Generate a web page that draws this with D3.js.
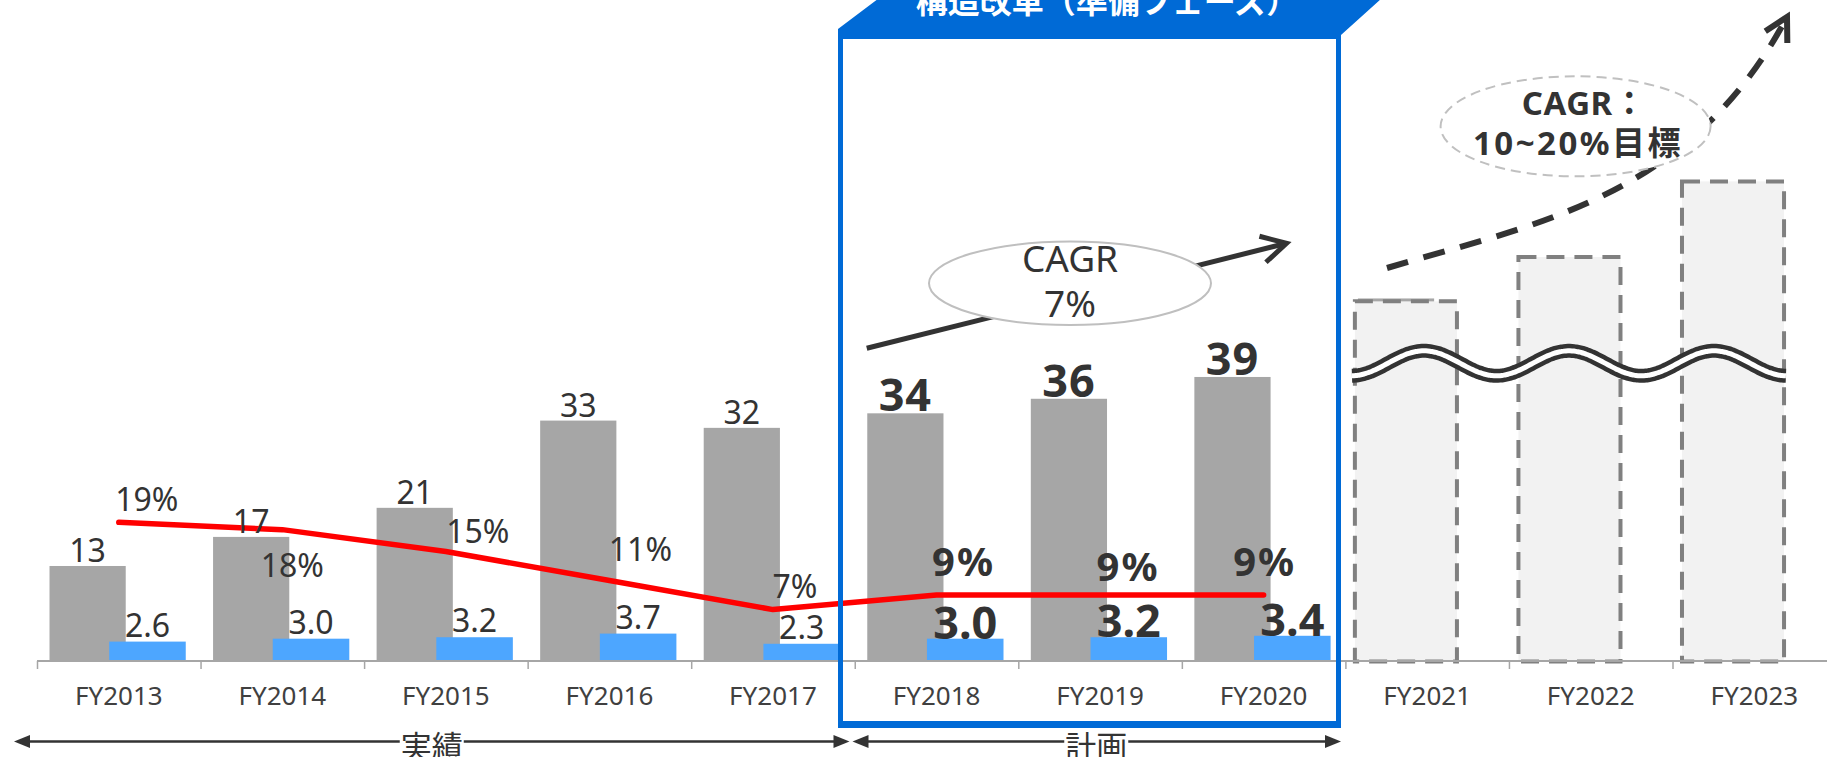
<!DOCTYPE html>
<html>
<head>
<meta charset="utf-8">
<script src="https://cdn.jsdelivr.net/npm/d3@7"></script>
<style>
html, body { margin: 0; padding: 0; background: #fff; overflow: hidden; }
svg { display: block; }
text { font-family: "Noto Sans", "Noto Sans CJK JP", sans-serif; }
</style>
</head>
<body>
<div id="chart"></div>
<script>
(function(){

var width = 1827,
	height = 757;

// categories and values
var years = ["FY2013","FY2014","FY2015","FY2016","FY2017","FY2018","FY2019","FY2020","FY2021","FY2022","FY2023"];
var barYears = ["FY2013","FY2014","FY2015","FY2016","FY2017","FY2018","FY2019","FY2020"];
var planYears = ["FY2018","FY2019","FY2020"];
var futureYears = ["FY2021","FY2022","FY2023"];

var sales = [13, 17, 21, 33, 32, 34, 36, 39];
var profit = [2.6, 3.0, 3.2, 3.7, 2.3, 3.0, 3.2, 3.4];
var margin = [19, 18, 15, 11, 7, 9, 9, 9];

// the target years are only sketched (dashed boxes, broken axis)
var futureSketch = [49.4, 55.5, 65.9];
var futureStub = [49.8];   // bit of the gray bar peeking out above FY2021

// hand placed % labels (dx, dy from the point)
var pctNudge = {
	FY2013: [28, -11], FY2014: [10, 47], FY2015: [32, -8], FY2016: [31, -20],
	FY2017: [22, -12], FY2018: [27, -19], FY2019: [28, -14], FY2020: [1, -19]
};

var C = { gray: "#a6a6a6", blue: "#4da6ff", red: "#ff0000", frame: "#006ad6", ink: "#333333", axis: "#a6a6a6" };

var svg = d3.select("#chart").append("svg")
	.attr("width", width)
	.attr("height", height);

var x = d3.scaleBand().domain(years).range([37, 37 + 163.55 * years.length]);
var bw = x.bandwidth();
var y = d3.scaleLinear().domain([0, 90]).range([660.5, 660.5 - 90 * 7.27]);

var grayX = function(c){ return x(c) + bw * 0.0765; },
	grayW = bw * 0.466,
	blueX = function(c){ return x(c) + bw * 0.4415; },
	blueW = bw * 0.468,
	isPlan = function(c){ return planYears.indexOf(c) >= 0; };

var rows = barYears.map(function(c, i){
	return { year: c, sales: sales[i], profit: profit[i], margin: margin[i], plan: isPlan(c) };
});

// ---- sketched future bars
svg.selectAll(".stub").data(futureStub).enter().append("rect")
	.attr("x", function(d, i){ return grayX(futureYears[i]); })
	.attr("y", function(d){ return y(d); })
	.attr("width", grayW)
	.attr("height", function(d){ return y(0) - y(d); })
	.style("fill", C.gray);

svg.selectAll(".future").data(futureSketch).enter().append("rect")
	.attr("class", "future")
	.attr("x", function(d, i){ return x(futureYears[i]) + bw * 0.058; })
	.attr("y", function(d){ return y(d); })
	.attr("width", bw * 0.624)
	.attr("height", function(d){ return y(0) - y(d) + 1; })
	.style("fill", "#f2f2f2")
	.style("stroke", "#808080")
	.style("stroke-width", 4)
	.style("stroke-dasharray", "18,10");

// ---- bars
svg.selectAll(".sales").data(rows).enter().append("rect")
	.attr("x", function(d){ return grayX(d.year); })
	.attr("y", function(d){ return y(d.sales); })
	.attr("width", grayW)
	.attr("height", function(d){ return y(0) - y(d.sales); })
	.style("fill", C.gray);

svg.selectAll(".profit").data(rows).enter().append("rect")
	.attr("x", function(d){ return blueX(d.year); })
	.attr("y", function(d){ return y(d.profit); })
	.attr("width", blueW)
	.attr("height", function(d){ return y(0) - y(d.profit); })
	.style("fill", C.blue);

// ---- axis
var ay = 661;
svg.append("line")
	.attr("x1", x.range()[0]).attr("x2", width)
	.attr("y1", ay).attr("y2", ay)
	.style("stroke", C.axis).style("stroke-width", 2);

svg.selectAll(".tick").data(years).enter().append("line")
	.attr("x1", function(d){ return x(d) + 0.5; })
	.attr("x2", function(d){ return x(d) + 0.5; })
	.attr("y1", ay).attr("y2", ay + 8)
	.style("stroke", C.axis).style("stroke-width", 1.5);

svg.selectAll(".xlabel").data(years).enter().append("text")
	.attr("x", function(d){ return x(d) + bw / 2; })
	.attr("y", 705)
	.attr("text-anchor", "middle")
	.style("font-size", "26px")
	.style("fill", "#404040")
	.text(function(d){ return d; });

// ---- margin line
var line = d3.line()
	.x(function(d){ return x(d.year) + bw / 2; })
	.y(function(d){ return y(d.margin); });

svg.append("path").datum(rows)
	.attr("d", line)
	.style("fill", "none")
	.style("stroke", C.red)
	.style("stroke-width", 5.5)
	.style("stroke-linecap", "round")
	.style("stroke-linejoin", "round");

// ---- value labels
svg.selectAll(".slabel").data(rows).enter().append("text")
	.attr("x", function(d){ return grayX(d.year) + grayW / 2; })
	.attr("y", function(d){ return y(d.sales) - (d.plan ? 2 : 4); })
	.attr("text-anchor", "middle")
	.style("font-size", function(d){ return d.plan ? "45px" : "32px"; })
	.style("font-weight", function(d){ return d.plan ? "bold" : "normal"; })
	.style("letter-spacing", function(d){ return d.plan ? "1px" : "0px"; })
	.style("fill", C.ink)
	.text(function(d){ return d.sales; });

svg.selectAll(".plabel").data(rows).enter().append("text")
	.attr("x", function(d){ return blueX(d.year) + blueW / 2; })
	.attr("y", function(d){ return y(d.profit) - (d.plan ? 0 : 5); })
	.attr("text-anchor", "middle")
	.style("font-size", function(d){ return d.plan ? "45px" : "32px"; })
	.style("font-weight", function(d){ return d.plan ? "bold" : "normal"; })
	.style("fill", C.ink)
	.text(function(d){ return d3.format(".1f")(d.profit); });

svg.selectAll(".mlabel").data(rows).enter().append("text")
	.attr("x", function(d){ return x(d.year) + bw / 2 + pctNudge[d.year][0]; })
	.attr("y", function(d){ return y(d.margin) + pctNudge[d.year][1]; })
	.attr("text-anchor", "middle")
	.style("font-size", function(d){ return d.plan ? "40px" : "32px"; })
	.style("font-weight", function(d){ return d.plan ? "bold" : "normal"; })
	.style("letter-spacing", function(d){ return d.plan ? "2px" : "0px"; })
	.style("fill", C.ink)
	.text(function(d){ return d.margin + "%"; });

// ---- broken axis wave over the sketched bars
var w0 = x("FY2021") + bw * 0.04, w1 = x("FY2023") + bw * 0.694;
var wave = d3.range(w0, w1 + 1, 2).map(function(px){
	return [px, 363.3 - 12.5 * Math.cos(2 * Math.PI * (px - 1424) / 145)];
});
var wl = d3.line().curve(d3.curveBasis);
svg.append("path").attr("d", wl(wave))
	.style("fill", "none").style("stroke", C.ink).style("stroke-width", 14);
svg.append("path").attr("d", wl(wave))
	.style("fill", "none").style("stroke", "#fff").style("stroke-width", 5);

// ---- plan frame and banner
var fL = x("FY2018") - 14.25,
	fR = x("FY2020") + bw - 6.9,
	fT = 36,
	fB = 724;

svg.append("rect")
	.attr("x", fL).attr("y", fT)
	.attr("width", fR - fL).attr("height", fB - fT)
	.style("fill", "none")
	.style("stroke", C.frame)
	.style("stroke-width", 5);
svg.append("rect")
	.attr("x", fL - 2.5).attr("y", fB - 3)
	.attr("width", fR - fL + 5).attr("height", 7)
	.style("fill", C.frame);

svg.append("polygon")
	.attr("points", [
		[fL - 2.5, fT + 3], [fL - 2.5, 29], [fL + 44, -6],
		[fR + 48, -6], [fR + 2.5, 35], [fR + 2.5, fT + 3]
	].join(" "))
	.style("fill", C.frame);

svg.append("text")
	.attr("x", 1107)
	.attr("y", 13)
	.attr("text-anchor", "middle")
	.style("font-family", "'Noto Sans CJK JP', sans-serif")
	.style("font-size", "32px")
	.style("font-weight", "bold")
	.style("fill", "#fff")
	.text("構造改革（準備フェーズ）");

// ---- open chevron helper
function chevron(tx, ty, ang, len, spread){
	var b = ang + Math.PI;
	return "M" + (tx + len * Math.cos(b + spread)) + "," + (ty + len * Math.sin(b + spread)) +
		"L" + tx + "," + ty +
		"L" + (tx + len * Math.cos(b - spread)) + "," + (ty + len * Math.sin(b - spread));
}

// ---- CAGR 7% arrow
var a0 = [x("FY2018") + 12, 348.3], a1 = [x("FY2020") + bw * 0.64, 243.3];
var ang = Math.atan2(a1[1] - a0[1], a1[0] - a0[0]);
svg.append("line")
	.attr("x1", a0[0]).attr("y1", a0[1]).attr("x2", a1[0] - 3 * Math.cos(ang)).attr("y2", a1[1] - 3 * Math.sin(ang))
	.style("stroke", C.ink).style("stroke-width", 5);
svg.append("path").attr("d", chevron(a1[0], a1[1], ang, 28, 0.5))
	.style("fill", "none").style("stroke", C.ink).style("stroke-width", 5)
	.style("stroke-linejoin", "miter");

svg.append("ellipse")
	.attr("cx", 1070).attr("cy", 283.3).attr("rx", 141).attr("ry", 41.7)
	.style("fill", "#fff").style("stroke", "#bfbfbf").style("stroke-width", 2);

svg.selectAll(".cagr1").data(["CAGR", "7%"]).enter().append("text")
	.attr("x", 1070)
	.attr("y", function(d, i){ return 271.7 + i * 45; })
	.attr("text-anchor", "middle")
	.style("font-size", "37px")
	.style("fill", C.ink)
	.text(function(d){ return d; });

// ---- target CAGR dashed arrow
var p0 = [1387, 268], p1 = [1530, 225], p2 = [1690, 200], p3 = [1787, 17];
svg.append("path")
	.attr("d", "M" + p0 + "C" + p1 + " " + p2 + " " + p3)
	.style("fill", "none").style("stroke", C.ink).style("stroke-width", 6)
	.style("stroke-dasharray", "22,16");
var ang2 = Math.atan2(p3[1] - p2[1], p3[0] - p2[0]);
svg.append("path").attr("d", chevron(p3[0], p3[1], ang2, 26, 0.5))
	.style("fill", "none").style("stroke", C.ink).style("stroke-width", 6);

svg.append("ellipse")
	.attr("cx", 1575.6).attr("cy", 126.3).attr("rx", 135).attr("ry", 50)
	.style("fill", "#fff").style("stroke", "#c0c0c0").style("stroke-width", 2)
	.style("stroke-dasharray", "10,6");

svg.selectAll(".cagr2").data(["CAGR：", "10~20%目標"]).enter().append("text")
	.attr("x", function(d, i){ return i ? 1578 : 1584; })
	.attr("y", function(d, i){ return 115 + i * 40; })
	.attr("text-anchor", "middle")
	.style("font-size", "33px")
	.style("font-weight", "bold")
	.style("letter-spacing", function(d, i){ return i ? "2.5px" : "0.5px"; })
	.style("fill", C.ink)
	.text(function(d){ return d; });

// ---- period arrows at the bottom
var periods = [
	{ name: "実績", from: x("FY2013") - 23, to: x("FY2018") - 5.25 },
	{ name: "計画", from: x("FY2018") - 2.25, to: fR + 2.5 }
];
var py = 741.5;

function head(tx, dir){
	return "M" + tx + "," + py + "L" + (tx + dir * 16) + "," + (py - 6.5) + "L" + (tx + dir * 16) + "," + (py + 6.5) + "Z";
}

var pg = svg.selectAll(".period").data(periods).enter().append("g");
pg.append("line")
	.attr("x1", function(d){ return d.from + 6; })
	.attr("x2", function(d){ return d.to - 6; })
	.attr("y1", py).attr("y2", py)
	.style("stroke", C.ink).style("stroke-width", 2.5);
pg.append("path").attr("d", function(d){ return head(d.from, 1); }).style("fill", C.ink);
pg.append("path").attr("d", function(d){ return head(d.to, -1); }).style("fill", C.ink);

var bg = pg.append("rect").style("fill", "#fff");
var pt = pg.append("text")
	.attr("x", function(d){ return (d.from + d.to) / 2 + (d.name == "実績" ? 0 : -0.5); })
	.attr("y", 758)
	.attr("text-anchor", "middle")
	.style("font-size", "31px")
	.style("fill", C.ink)
	.text(function(d){ return d.name; });
pt.each(function(d, i){
	var b = this.getBBox();
	d3.select(bg.nodes()[i])
		.attr("x", b.x - 1).attr("y", py - 4)
		.attr("width", b.width + 2).attr("height", 10);
});

})()
</script>
</body>
</html>
